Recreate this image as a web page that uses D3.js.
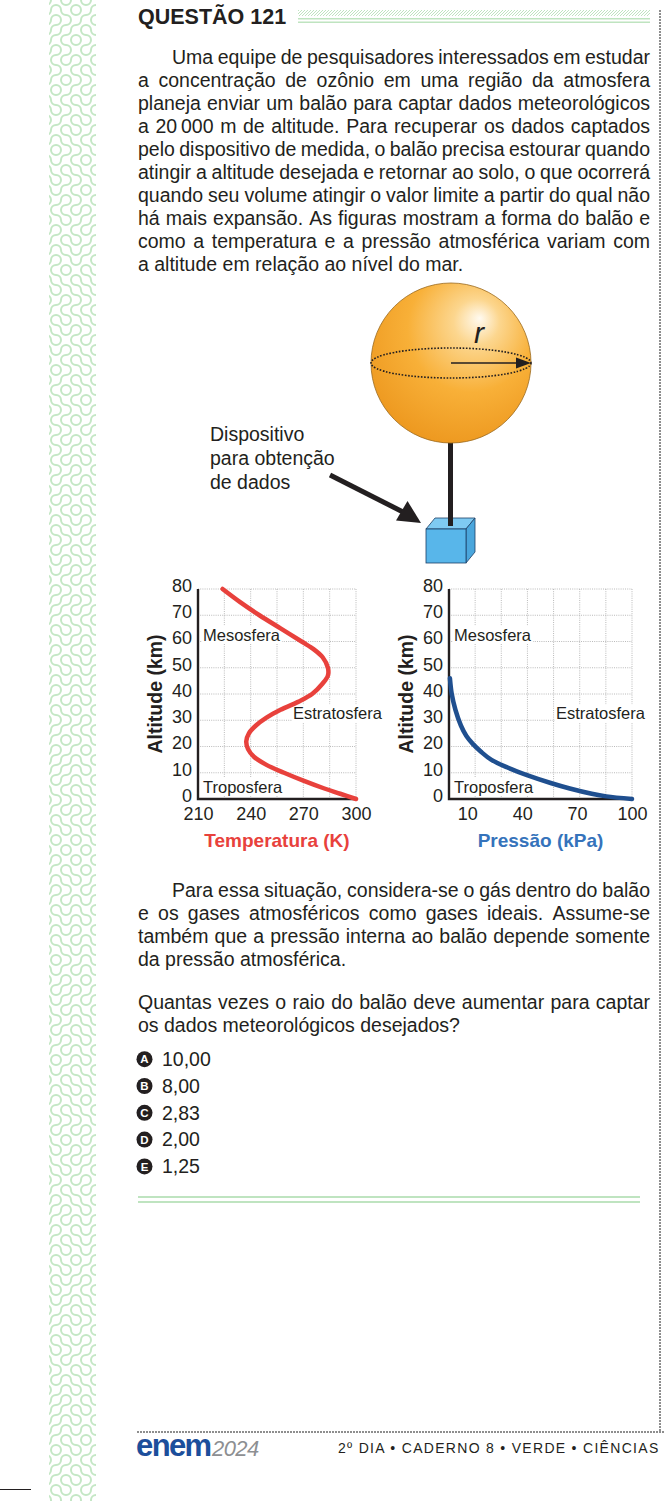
<!DOCTYPE html>
<html>
<head>
<meta charset="utf-8">
<script src="https://cdn.jsdelivr.net/npm/d3@7"></script>
<style>
  body { margin: 0; background: #fff; }
  svg { display: block; font-family: "Liberation Sans", Arial, sans-serif; }
</style>
</head>
<body>
<script>
// ---- values ----
var altTicks  = [0, 10, 20, 30, 40, 50, 60, 70, 80]
var tempTicks = [210, 240, 270, 300]
var presTicks = [10, 40, 70, 100]

// temperature profile: altitude (km) -> temperature (K)
var tempAlt = [80, 75, 70, 65, 60, 57, 54, 50, 47, 44, 40, 37, 34, 31, 28, 25, 22, 19, 16, 13, 10, 7, 4, 2, 0]
var tempK   = [224, 234, 245, 257, 269, 276, 281, 284, 284, 281, 275, 267, 257, 249, 243, 239, 237.5, 238.5, 242, 249, 259, 270, 282, 291, 300]

// pressure profile: altitude (km) -> pressure (kPa)
var presAlt = [46, 40, 34, 28, 24, 21, 18, 15, 12, 9, 6, 4, 2, 1, 0]
var presKPa = [0.5, 1.5, 3.5, 6.5, 9.5, 13, 17.5, 23, 32, 43, 56, 66, 78, 86, 100]

var layerNames = ['Mesosfera', 'Estratosfera', 'Troposfera']
var optionLetters = ['A', 'B', 'C', 'D', 'E']
var optionValues  = ['10,00', '8,00', '2,83', '2,00', '1,25']

var para1 = [
  'Uma equipe de pesquisadores interessados em estudar',
  'a concentração de ozônio em uma região da atmosfera',
  'planeja enviar um balão para captar dados meteorológicos',
  'a 20\u2009000 m de altitude. Para recuperar os dados captados',
  'pelo dispositivo de medida, o balão precisa estourar quando',
  'atingir a altitude desejada e retornar ao solo, o que ocorrerá',
  'quando seu volume atingir o valor limite a partir do qual não',
  'há mais expansão. As figuras mostram a forma do balão e',
  'como a temperatura e a pressão atmosférica variam com',
  'a altitude em relação ao nível do mar.'
]
var para2 = [
  'Para essa situação, considera-se o gás dentro do balão',
  'e os gases atmosféricos como gases ideais. Assume-se',
  'também que a pressão interna ao balão depende somente',
  'da pressão atmosférica.'
]
var para3 = [
  'Quantas vezes o raio do balão deve aumentar para captar',
  'os dados meteorológicos desejados?'
]

var W = 664, H = 1501, ink = '#231f20', green = '#bfe4c0'
var svg = d3.select('body').append('svg').attr('width', W).attr('height', H)
var defs = svg.append('defs')

// ---- decorative left strip (truchet squiggles) ----
var strip = { x: 49, w: 47 }
defs.append('clipPath').attr('id', 'stripClip')
  .append('rect').attr('x', strip.x).attr('y', 0).attr('width', strip.w).attr('height', H)
var s = 10, h2 = s / 2, dStrip = ''
for (var r = 0; r < Math.ceil(H / s); r++) {
  for (var c = 0; c < Math.ceil(strip.w / s) + 1; c++) {
    var x = strip.x - 3 + c * s, y = r * s
    var f = Math.sin(c * 12.9898 + r * 78.233) * 43758.5453
    if (f - Math.floor(f) < 0.5) {
      dStrip += 'M' + x + ',' + (y + h2) + 'A' + h2 + ',' + h2 + ' 0 0 0 ' + (x + h2) + ',' + y
      dStrip += 'M' + (x + s) + ',' + (y + h2) + 'A' + h2 + ',' + h2 + ' 0 0 0 ' + (x + h2) + ',' + (y + s)
    } else {
      dStrip += 'M' + (x + h2) + ',' + y + 'A' + h2 + ',' + h2 + ' 0 0 0 ' + (x + s) + ',' + (y + h2)
      dStrip += 'M' + (x + h2) + ',' + (y + s) + 'A' + h2 + ',' + h2 + ' 0 0 0 ' + x + ',' + (y + h2)
    }
  }
}
svg.append('path').attr('d', dStrip).attr('clip-path', 'url(#stripClip)')
  .attr('fill', 'none').attr('stroke', '#c4e7c5').attr('stroke-width', 2).attr('stroke-linecap', 'round')

// short rule bottom-left
svg.append('line').attr('x1', 0).attr('x2', 31).attr('y1', 1489.5).attr('y2', 1489.5)
  .attr('stroke', ink).attr('stroke-width', 1)

// right microtext column + footer microtext line
svg.append('line').attr('x1', 660).attr('x2', 660).attr('y1', 10).attr('y2', 1432)
  .attr('stroke', '#8e8e8e').attr('stroke-width', 2).attr('stroke-dasharray', '2 1')
svg.append('line').attr('x1', 137).attr('x2', W).attr('y1', 1432).attr('y2', 1432)
  .attr('stroke', '#8e8e8e').attr('stroke-width', 2).attr('stroke-dasharray', '2 1')

// ---- title ----
svg.append('text').attr('x', 138).attr('y', 24).attr('fill', ink)
  .attr('font-size', 21.5).attr('font-weight', 'bold').text('QUESTÃO 121')
var hatch = defs.append('pattern').attr('id', 'hatch').attr('patternUnits', 'userSpaceOnUse')
  .attr('width', 3).attr('height', 3)
hatch.append('path').attr('d', 'M-1,1 l2,-2 M0,3 l3,-3 M2,4 l2,-2')
  .attr('stroke', green).attr('stroke-width', 1)
svg.append('rect').attr('x', 298).attr('y', 10).attr('width', 352).attr('height', 6).attr('fill', 'url(#hatch)')
svg.selectAll('.trule').data([18.8, 22.3]).enter().append('line')
  .attr('x1', 298).attr('x2', 650).attr('y1', function(d){ return d }).attr('y2', function(d){ return d })
  .attr('stroke', green).attr('stroke-width', 1.6)

// ---- justified paragraphs ----
function paragraph(lines, y0, lh, indent) {
  var left = 138, right = 650, fs = 19.5
  lines.forEach(function(line, i) {
    var x0 = left + (i === 0 && indent ? 34 : 0), yy = y0 + i * lh
    if (i === lines.length - 1) {
      svg.append('text').attr('x', x0).attr('y', yy).attr('font-size', fs).attr('fill', ink).text(line)
      return
    }
    var words = line.split(' ')
    var nodes = words.map(function(w) {
      return svg.append('text').attr('y', yy).attr('font-size', fs).attr('fill', ink).text(w)
    })
    var widths = nodes.map(function(n){ return n.node().getComputedTextLength() })
    var gap = (right - x0 - d3.sum(widths)) / (words.length - 1), cx = x0
    nodes.forEach(function(n, k){ n.attr('x', cx); cx += widths[k] + gap })
  })
}
paragraph(para1, 64, 23, true)
paragraph(para2, 897, 23, true)
paragraph(para3, 1009, 23, false)

// ---- options ----
optionLetters.forEach(function(l, i) {
  var yy = 1066 + i * 26.8
  svg.append('circle').attr('cx', 144.5).attr('cy', yy - 6.8).attr('r', 8).attr('fill', ink)
  svg.append('text').attr('x', 144.5).attr('y', yy - 2.7).attr('text-anchor', 'middle')
    .attr('font-size', 11.5).attr('font-weight', 'bold').attr('fill', '#fff').text(l)
  svg.append('text').attr('x', 162).attr('y', yy).attr('font-size', 19.5).attr('fill', ink).text(optionValues[i])
})

svg.selectAll('.brule').data([1197, 1202]).enter().append('line')
  .attr('x1', 138).attr('x2', 640).attr('y1', function(d){ return d }).attr('y2', function(d){ return d })
  .attr('stroke', green).attr('stroke-width', 2)

// ---- balloon ----
var ball = defs.append('radialGradient').attr('id', 'ball')
  .attr('cx', 0.58).attr('cy', 0.34).attr('r', 0.72).attr('fx', 0.68).attr('fy', 0.22)
ball.append('stop').attr('offset', 0).attr('stop-color', '#fffaf0')
ball.append('stop').attr('offset', 0.2).attr('stop-color', '#fcd68e')
ball.append('stop').attr('offset', 0.55).attr('stop-color', '#f8b038')
ball.append('stop').attr('offset', 1).attr('stop-color', '#ec961d')

var bx = 451, by = 363, br = 80
svg.append('line').attr('x1', 450.5).attr('x2', 450.5).attr('y1', by + br - 2).attr('y2', 528)
  .attr('stroke', ink).attr('stroke-width', 5)
svg.append('circle').attr('cx', bx).attr('cy', by).attr('r', br)
  .attr('fill', 'url(#ball)').attr('stroke', '#9a6a1e').attr('stroke-width', 0.8)
svg.append('ellipse').attr('cx', bx).attr('cy', by).attr('rx', br).attr('ry', 15)
  .attr('fill', 'none').attr('stroke', ink).attr('stroke-width', 1.6).attr('stroke-dasharray', '1.6 1.6')
svg.append('line').attr('x1', bx).attr('x2', bx + br - 12).attr('y1', by).attr('y2', by)
  .attr('stroke', ink).attr('stroke-width', 1.6)
svg.append('path').attr('d', 'M' + (bx + br) + ',' + by + 'l-15,-5.5v11z').attr('fill', ink)
svg.append('text').attr('x', 474).attr('y', 343).attr('font-size', 30).attr('font-style', 'italic')
  .attr('fill', ink).text('r')

// data box (cube)
var cube = { x: 426, y: 529, w: 40, h: 34, dx: 9, dy: -11 }
svg.append('path').attr('fill', '#7fcaf2').attr('stroke', '#1d3f66').attr('stroke-width', 0.8)
  .attr('d', 'M' + cube.x + ',' + cube.y + 'h' + cube.w + 'l' + cube.dx + ',' + cube.dy + 'h' + (-cube.w) + 'z')
svg.append('path').attr('fill', '#4aa6dc').attr('stroke', '#1d3f66').attr('stroke-width', 0.8)
  .attr('d', 'M' + (cube.x + cube.w) + ',' + cube.y + 'l' + cube.dx + ',' + cube.dy + 'v' + cube.h + 'l' + (-cube.dx) + ',' + (-cube.dy) + 'z')
svg.append('rect').attr('x', cube.x).attr('y', cube.y).attr('width', cube.w).attr('height', cube.h)
  .attr('fill', '#58b6ea').attr('stroke', '#1d3f66').attr('stroke-width', 0.8)
svg.append('line').attr('x1', 450.5).attr('x2', 450.5).attr('y1', 500).attr('y2', 526)
  .attr('stroke', ink).attr('stroke-width', 5)

// pointer arrow + label
svg.append('line').attr('x1', 330).attr('y1', 475).attr('x2', 403).attr('y2', 512)
  .attr('stroke', ink).attr('stroke-width', 5)
svg.append('path').attr('d', 'M421,523 L396,520.5 L407.5,501 Z').attr('fill', ink)
;['Dispositivo', 'para obtenção', 'de dados'].forEach(function(t, i) {
  svg.append('text').attr('x', 210).attr('y', 441 + i * 24).attr('font-size', 19.5)
    .attr('fill', ink).text(t)
})

// ---- charts ----
var y = d3.scaleLinear().domain([0, 80]).range([799, 589])

function chart(cfg) {
  var x = cfg.x, g = svg.append('g')
  var x0 = x.range()[0], x1 = x.range()[1]

  // dotted grid
  g.selectAll('.hg').data(altTicks.slice(1)).enter().append('line')
    .attr('x1', x0).attr('x2', x1).attr('y1', function(d){ return y(d) }).attr('y2', function(d){ return y(d) })
    .attr('stroke', '#a8a8a8').attr('stroke-width', 0.8).attr('stroke-dasharray', '1 1.2')
  g.selectAll('.vg').data(cfg.grid.slice(1)).enter().append('line')
    .attr('x1', function(d){ return x(d) }).attr('x2', function(d){ return x(d) })
    .attr('y1', y(0)).attr('y2', y(80))
    .attr('stroke', '#a8a8a8').attr('stroke-width', 0.8).attr('stroke-dasharray', '1 1.2')

  // layer labels on white
  var labels = [
    { t: layerNames[0], x: x0 + 5, y: y(60) - 1 },
    { t: layerNames[1], x: cfg.strX, y: y(30) - 1 },
    { t: layerNames[2], x: x0 + 5, y: y(0) - 6 }
  ]
  labels.forEach(function(l) {
    var t = g.append('text').attr('x', l.x).attr('y', l.y).attr('font-size', 16.5).attr('fill', ink).text(l.t)
    var b = t.node().getBBox()
    g.insert('rect', 'text').attr('x', b.x - 1).attr('y', b.y).attr('width', b.width + 2).attr('height', b.height)
      .attr('fill', '#fff')
  })

  // axes
  var ya = g.append('g').attr('transform', 'translate(' + x0 + ',0)')
    .call(d3.axisLeft(y).tickValues(altTicks).tickSize(0).tickPadding(6))
  ya.select('.domain').remove()
  ya.selectAll('text').attr('font-size', 18).attr('font-family', null).attr('fill', ink).attr('dy', '0.13em')
  var xa = g.append('g').attr('transform', 'translate(0,' + y(0) + ')')
    .call(d3.axisBottom(x).tickValues(cfg.ticks).tickSize(0).tickPadding(8))
  xa.select('.domain').remove()
  xa.selectAll('text').attr('font-size', 18).attr('font-family', null).attr('fill', ink)

  g.append('path').attr('d', 'M' + x0 + ',' + y(80) + 'V' + y(0) + 'H' + x1)
    .attr('fill', 'none').attr('stroke', ink).attr('stroke-width', 2.4)

  // curve
  var pts = cfg.alt.map(function(a, i){ return [cfg.val[i], a] })
  g.append('path').datum(pts)
    .attr('d', d3.line().x(function(d){ return x(d[0]) }).y(function(d){ return y(d[1]) })
      .curve(d3.curveCatmullRom.alpha(0.5)))
    .attr('fill', 'none').attr('stroke', cfg.color).attr('stroke-width', 4.5).attr('stroke-linecap', 'round')

  // titles
  g.append('text').attr('transform', 'translate(' + (x0 - 43) + ',' + y(40) + ') rotate(-90)')
    .attr('text-anchor', 'middle').attr('dy', '0.35em').attr('font-size', 19.5).attr('font-weight', 'bold')
    .attr('fill', ink).text('Altitude (km)')
  g.append('text').attr('x', (x0 + x1) / 2).attr('y', 847).attr('text-anchor', 'middle')
    .attr('font-size', 19).attr('font-weight', 'bold').attr('fill', cfg.titleColor).text(cfg.title)
}

chart({
  x: d3.scaleLinear().domain([210, 300]).range([198, 356]),
  grid: d3.range(210, 301, 15), ticks: tempTicks,
  alt: tempAlt, val: tempK, color: '#e8413c', titleColor: '#e8413c',
  title: 'Temperatura (K)', strX: 293
})
chart({
  x: d3.scaleLinear().domain([0, 100]).range([449, 632]),
  grid: d3.range(0, 100.01, 100 / 7), ticks: presTicks,
  alt: presAlt, val: presKPa, color: '#1f4f8f', titleColor: '#3573bb',
  title: 'Pressão (kPa)', strX: 556
})

// ---- footer ----
svg.append('text').attr('x', 136).attr('y', 1456).attr('font-size', 31).attr('font-weight', 'bold')
  .attr('letter-spacing', -1.6).attr('fill', '#1c4e9b').text('enem')
svg.append('text').attr('x', 212).attr('y', 1456).attr('font-size', 22).attr('font-style', 'italic')
  .attr('letter-spacing', -0.6).attr('fill', '#8d8f92').text('2024')
svg.append('text').attr('x', 338).attr('y', 1453).attr('font-size', 14).attr('letter-spacing', 1.3)
  .attr('fill', ink).text('2º DIA • CADERNO 8 • VERDE • CIÊNCIAS')
</script>
</body>
</html>
